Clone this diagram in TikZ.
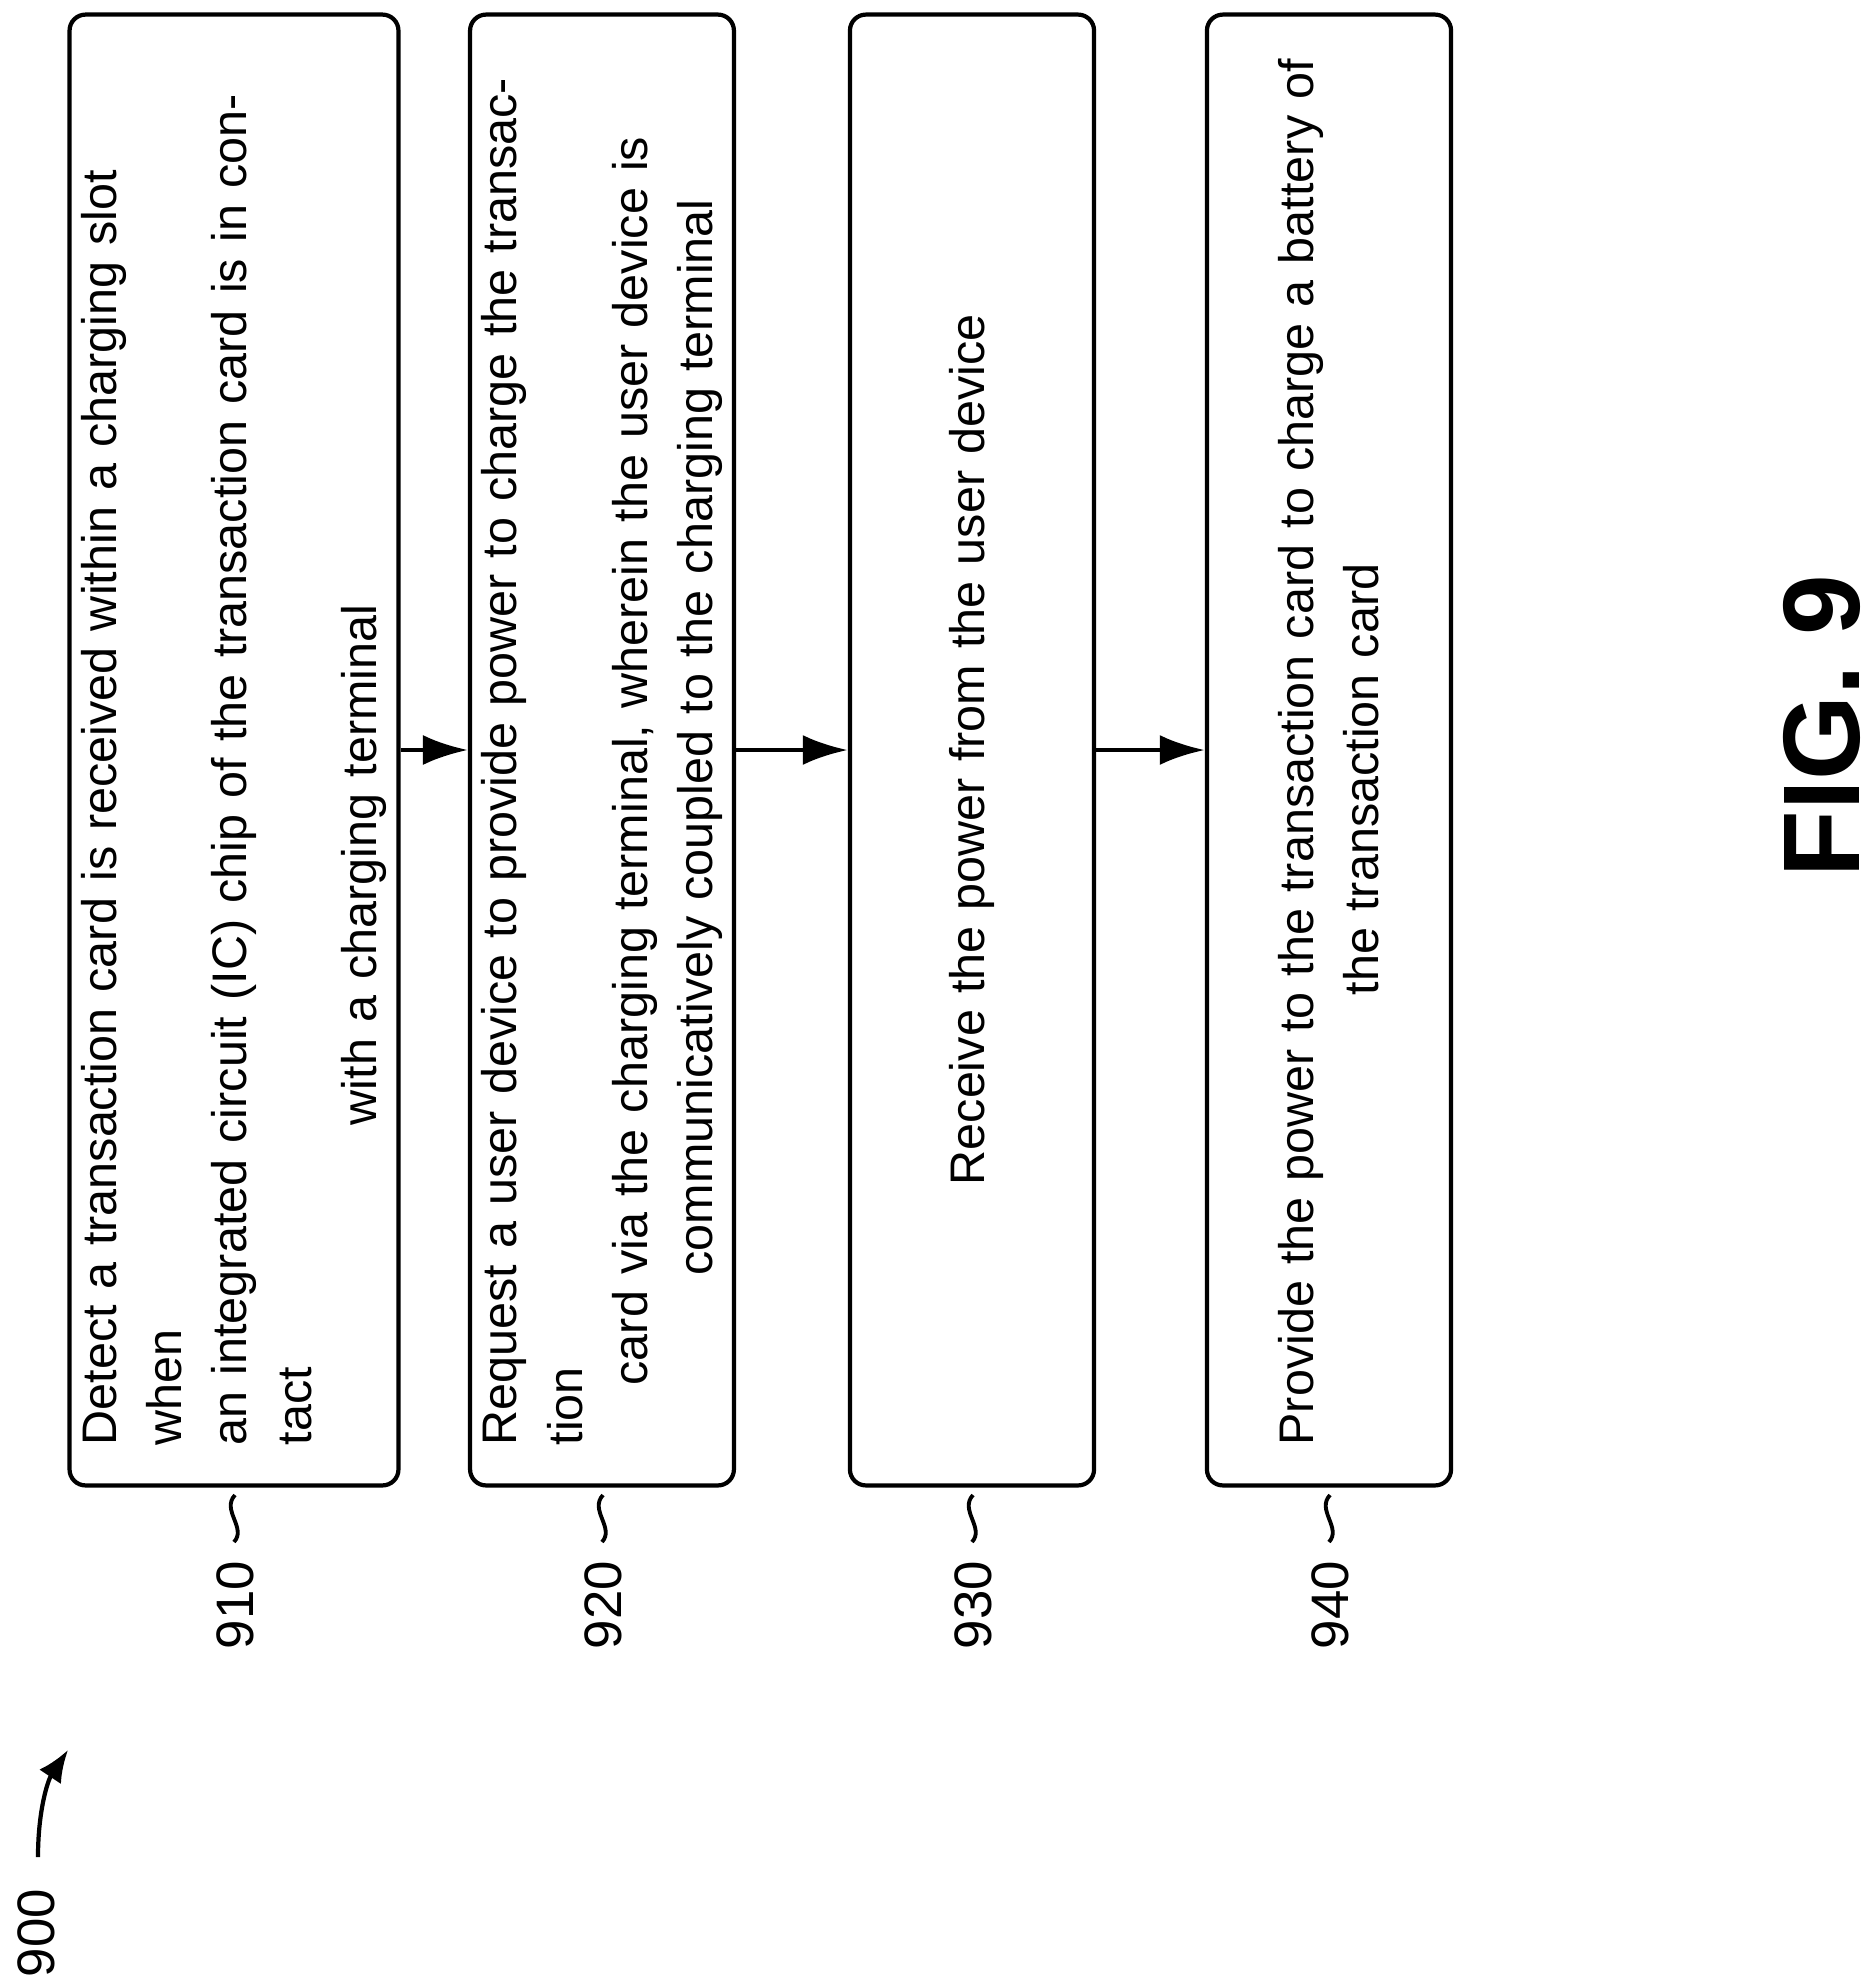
\documentclass[tikz,border=0pt]{standalone}
\usepackage{fontspec}
\setmainfont{Liberation Sans}
\usetikzlibrary{arrows.meta}

\tikzset{
	stepbox/.style={draw, line width=1.2pt, rounded corners=0.16cm, rotate=90,
		minimum width=14.55cm, minimum height=2.44cm, text width=13.9cm,
		inner xsep=0.4cm, align=left, font=\fontsize{13.8}{18.5}\selectfont},
	flow/.style={line width=1.3pt, -{Latex[length=0.45cm,width=0.3cm]}},
	refnum/.style={rotate=90, font=\fontsize{15}{18}\selectfont},
}

\begin{document}
\begin{tikzpicture}[x=0.01cm, y=-0.01cm]
		\useasboundingbox (0,0) rectangle (1875,1987);
		
		\node[stepbox] (s910) at (234,750) {Detect a transaction card is received within a charging slot when\\ an integrated circuit (IC) chip of the transaction card is in contact\\ \hspace*{3.2cm}with a charging terminal};
		\node[stepbox] (s920) at (602,750) {Request a user device to provide power to charge the transaction\\ \hspace*{0.6cm}card via the charging terminal, wherein the user device is\\ \hspace*{1.7cm}communicatively coupled to the charging terminal};
		\node[stepbox] (s930) at (972,750) {\hspace*{2.6cm}Receive the power from the user device};
		\node[stepbox] (s940) at (1329,750) {Provide the power to the transaction card to charge a battery of\\ \hspace*{4.5cm}the transaction card};
		
		\draw[flow] (s910.south) -- (s920.north);
		\draw[flow] (s920.south) -- (s930.north);
		\draw[flow] (s930.south) -- (s940.north);
		
		\foreach \n/\x in {910/235, 920/603, 930/973, 940/1330}{
			\node[refnum] (r\n) at (\x,1605) {\n};
			\draw[line width=1.1pt] (\x,1495) .. controls (\x-14,1510) and (\x+12,1528) .. (\x-1,1542);
		}
		
		\node[refnum] (r900) at (36,1933) {900};
		\coordinate (tip900) at (68,1750);
		\draw[line width=1.2pt, -{Latex[length=0.32cm,width=0.26cm]}] (38,1857) .. controls (38,1810) and (48,1780) .. (tip900);
		
		\node[rotate=90, font=\bfseries\fontsize{31}{34}\selectfont] (fig) at (1822,726) {FIG. 9};
	\end{tikzpicture}
\end{document}
